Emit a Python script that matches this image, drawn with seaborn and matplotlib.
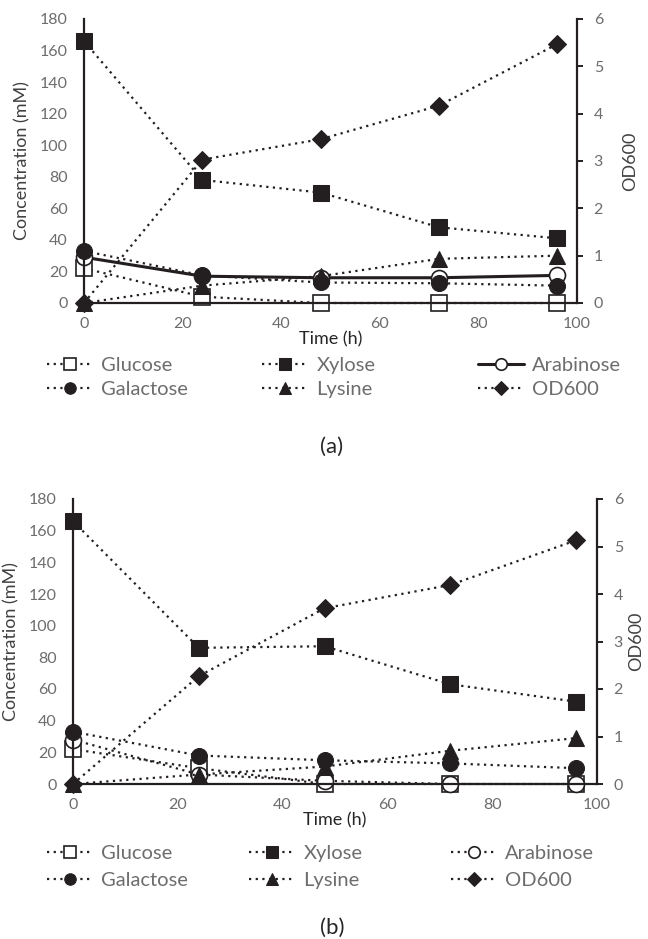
import numpy as np
import matplotlib
matplotlib.use("Agg")
import matplotlib.pyplot as plt
import seaborn as sns

# time points (h)
time_h = [0, 24, 48, 72, 96]

# panel (a) concentrations (mM) and OD600
a_glucose = [22, 4, 0, 0, 0]
a_xylose = [166, 78, 70, 48, 41]
a_arabinose = [29, 17, 16, 16, 17.5]
a_galactose = [33, 17.5, 13, 12.5, 11]
a_lysine = [0, 11, 17, 28, 30]
a_od600 = [0, 3.03, 3.46, 4.17, 5.47]

# panel (b)
b_glucose = [22, 10, 0, 0, 0]
b_xylose = [166, 86, 87, 63, 52]
b_arabinose = [28, 6, 2, 0, 0]
b_galactose = [33, 18, 15, 13, 10]
b_lysine = [0, 6, 11, 21, 29]
b_od600 = [0, 2.27, 3.70, 4.19, 5.13]

sns.set_style("white")
plt.rcParams["font.family"] = ["Lato", "DejaVu Sans"]

DARK = "#231f20"
GREY = "#6d6d6d"
DOT = (0, (1, 2))

fig = plt.figure(figsize=(6.48, 9.39), dpi=100)


def draw_panel(rect, data, arab_solid, tag, tag_y, legend_y, legend_x, od_pad, row_gap):
    ax = fig.add_axes(rect)
    ax2 = ax.twinx()
    glucose, xylose, arabinose, galactose, lysine, od = data

    common = dict(ms=11.5, clip_on=False, color=DARK, lw=1.6)
    sns.lineplot(x=time_h, y=glucose, ax=ax, marker="s", linestyle=DOT,
                 mfc="white", mec=DARK, mew=1.2, label="Glucose", **common)
    sns.lineplot(x=time_h, y=xylose, ax=ax, marker="s", linestyle=DOT,
                 mfc=DARK, mec=DARK, label="Xylose", **common)
    if arab_solid:
        sns.lineplot(x=time_h, y=arabinose, ax=ax, marker="o", linestyle="-",
                     mfc="white", mec=DARK, mew=1.2, label="Arabinose",
                     ms=11.5, clip_on=False, color=DARK, lw=2.2)
    else:
        sns.lineplot(x=time_h, y=arabinose, ax=ax, marker="o", linestyle=DOT,
                     mfc="white", mec=DARK, mew=1.2, label="Arabinose", **common)
    sns.lineplot(x=time_h, y=galactose, ax=ax, marker="o", linestyle=DOT,
                 mfc=DARK, mec=DARK, label="Galactose", **common)
    sns.lineplot(x=time_h, y=lysine, ax=ax, marker="^", linestyle=DOT,
                 mfc=DARK, mec=DARK, label="Lysine", **common)
    sns.lineplot(x=time_h, y=od, ax=ax2, marker="D", linestyle=DOT,
                 mfc=DARK, mec=DARK, label="OD600",
                 ms=9.5, clip_on=False, color=DARK, lw=1.6)

    for a in (ax, ax2):
        if a.get_legend() is not None:
            a.get_legend().remove()

    ax.set_xlim(0, 100)
    ax.set_ylim(0, 180)
    ax2.set_ylim(0, 6)
    ax.set_xticks(range(0, 101, 20))
    ax.set_yticks(range(0, 181, 20))
    ax2.set_yticks(range(0, 7))

    for s in ["top", "right"]:
        ax.spines[s].set_visible(False)
    for s in ["top", "left", "bottom"]:
        ax2.spines[s].set_visible(False)
    for sp in [ax.spines["left"], ax.spines["bottom"], ax2.spines["right"]]:
        sp.set_color(DARK)
        sp.set_linewidth(1.6)

    ax.tick_params(axis="both", length=0, labelsize=11.5, labelcolor=GREY)
    ax.tick_params(axis="y", pad=11.5)
    ax.tick_params(axis="x", pad=10)
    ax2.tick_params(axis="y", length=4, width=1.4, color=DARK, direction="out",
                    labelsize=11.5, labelcolor=GREY, pad=8)

    ax.set_xlabel("Time (h)", fontsize=13, color="#262626", labelpad=0)
    ax.set_ylabel("Concentration (mM)", fontsize=13, color="#404040", labelpad=7)
    ax2.set_ylabel("OD600", fontsize=13, color="#404040", labelpad=od_pad)
    ax.grid(False)
    ax2.grid(False)

    handles = {}
    for a in (ax, ax2):
        h, l = a.get_legend_handles_labels()
        handles.update(dict(zip(l, h)))

    cols = [["Glucose", "Galactose"], ["Xylose", "Lysine"], ["Arabinose", "OD600"]]
    for names, lx in zip(cols, legend_x):
        fig.legend([handles[n] for n in names], names,
                   loc="center left", bbox_to_anchor=(lx / 648, 1 - legend_y / 939),
                   frameon=False, fontsize=14.5, labelcolor=GREY,
                   handlelength=2.3, handletextpad=0.4, numpoints=1,
                   markerscale=0.72, borderpad=0, borderaxespad=0,
                   labelspacing=row_gap)

    fig.text(332 / 648, 1 - tag_y / 939, tag, ha="center", va="center",
             fontsize=16, color="#262626")


draw_panel([84 / 648, 636 / 939, 493 / 648, 284 / 939],
           [a_glucose, a_xylose, a_arabinose, a_galactose, a_lysine, a_od600],
           True, "(a)", 447, 377.5, [47, 262, 478], 14, 0.3)

draw_panel([73 / 648, 155 / 939, 524 / 648, 285 / 939],
           [b_glucose, b_xylose, b_arabinose, b_galactose, b_lysine, b_od600],
           False, "(b)", 928, 867, [47, 249, 451], 4, 0.45)

fig.savefig("out.png", dpi=100)
